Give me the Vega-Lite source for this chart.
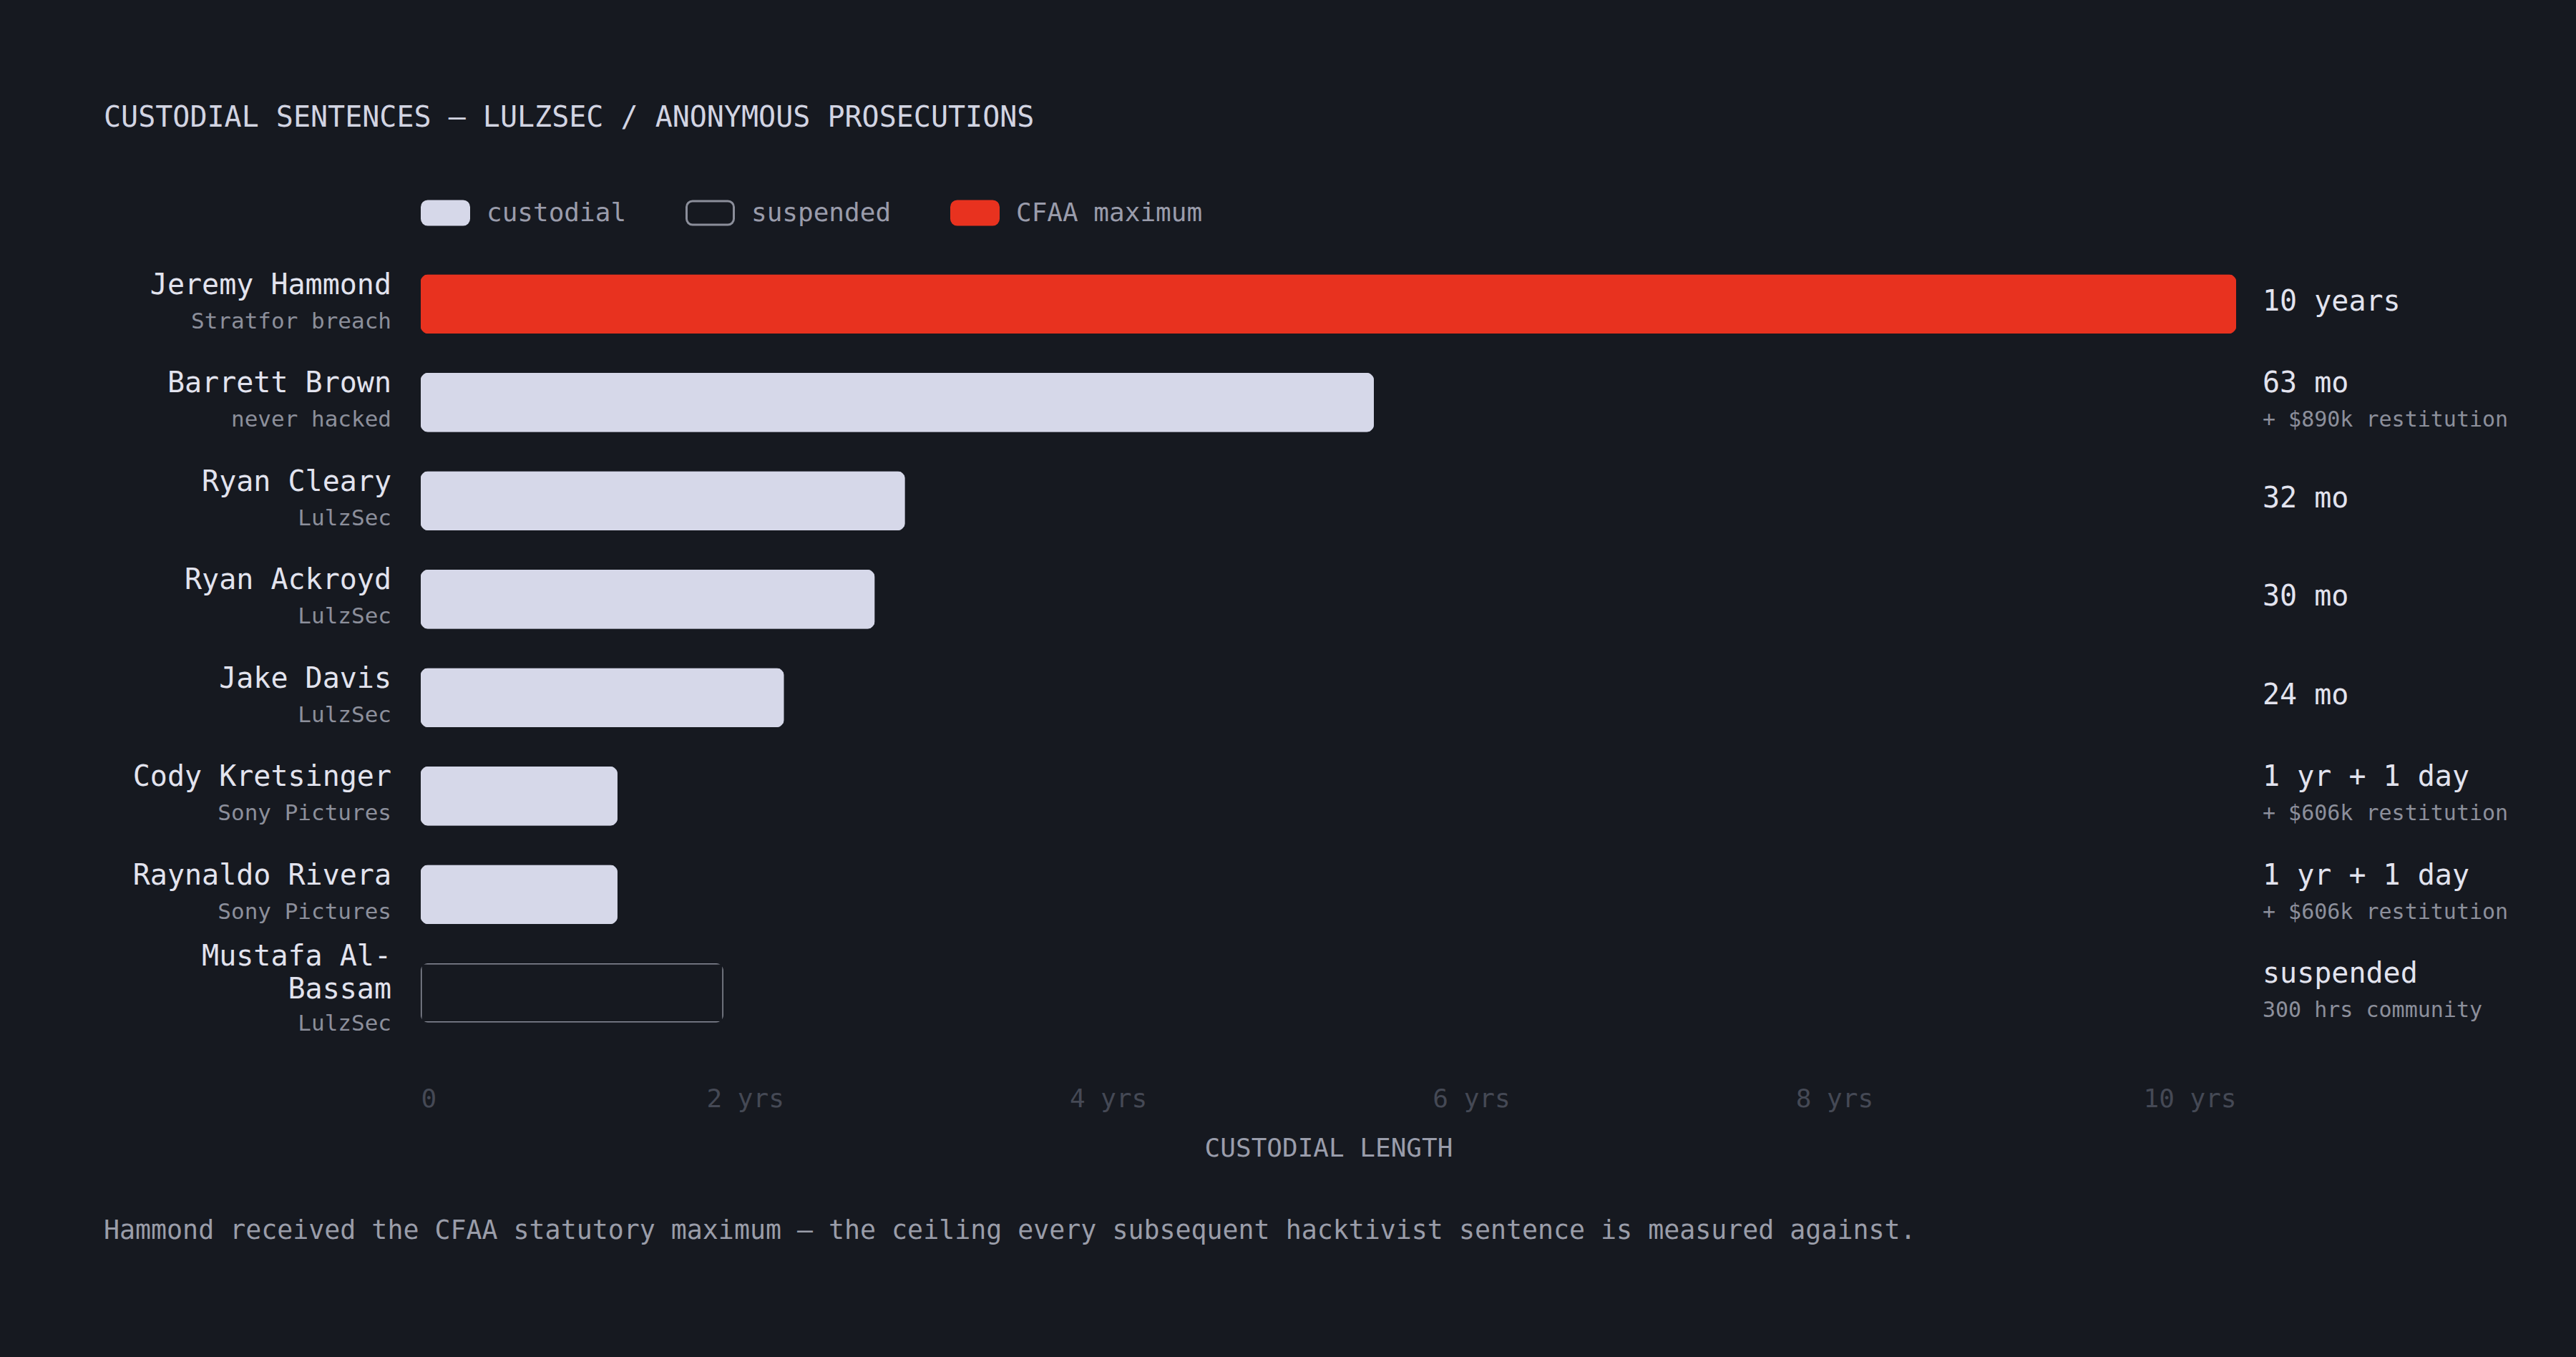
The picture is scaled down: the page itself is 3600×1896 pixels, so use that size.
{
  "$schema": "https://vega.github.io/schema/vega-lite/v6.json",
  "background": "#161920",
  "padding": {"left": 145, "top": 145, "right": 95, "bottom": 174},
  "autosize": {"type": "pad"},
  "title": {
    "text": "CUSTODIAL SENTENCES — LULZSEC / ANONYMOUS PROSECUTIONS",
    "anchor": "start",
    "frame": "group",
    "dx": -443,
    "font": "DejaVu Sans Mono",
    "fontSize": 40,
    "fontWeight": "normal",
    "color": "#d2d4e2",
    "offset": 78
  },
  "config": {
    "view": {"stroke": null},
    "font": "DejaVu Sans Mono"
  },
  "data": {
    "values": [
      {"name": "Jeremy Hammond", "group": "Stratfor breach", "months": 120, "kind": "CFAA maximum", "label": "10 years", "note": ""},
      {"name": "Barrett Brown", "group": "never hacked", "months": 63, "kind": "custodial", "label": "63 mo", "note": "+ $890k restitution"},
      {"name": "Ryan Cleary", "group": "LulzSec", "months": 32, "kind": "custodial", "label": "32 mo", "note": ""},
      {"name": "Ryan Ackroyd", "group": "LulzSec", "months": 30, "kind": "custodial", "label": "30 mo", "note": ""},
      {"name": "Jake Davis", "group": "LulzSec", "months": 24, "kind": "custodial", "label": "24 mo", "note": ""},
      {"name": "Cody Kretsinger", "group": "Sony Pictures", "months": 13, "kind": "custodial", "label": "1 yr + 1 day", "note": "+ $606k restitution"},
      {"name": "Raynaldo Rivera", "group": "Sony Pictures", "months": 13, "kind": "custodial", "label": "1 yr + 1 day", "note": "+ $606k restitution"},
      {"name": "Mustafa Al-\nBassam", "group": "LulzSec", "months": 20, "kind": "suspended", "label": "suspended", "note": "300 hrs community"}
    ]
  },
  "vconcat": [
    {
      "width": 2537,
      "height": 1100,
      "title": {
        "text": "Hammond received the CFAA statutory maximum — the ceiling every subsequent hacktivist sentence is measured against.",
        "orient": "bottom",
        "anchor": "start",
        "frame": "group",
        "dx": -443,
        "font": "DejaVu Sans Mono",
        "fontSize": 36.6,
        "fontWeight": "normal",
        "color": "#9a9da9",
        "offset": 80
      },
      "layer": [
        {
          "mark": {"type": "bar", "cornerRadius": 10, "strokeWidth": 3},
          "encoding": {
            "y": {
              "field": "name",
              "type": "nominal",
              "sort": null,
              "axis": null,
              "scale": {"paddingInner": 0.4, "paddingOuter": 0.2}
            },
            "x": {
              "field": "months",
              "type": "quantitative",
              "title": "CUSTODIAL LENGTH",
              "scale": {"domain": [0, 120], "nice": false},
              "axis": {
                "values": [0, 24, 48, 72, 96, 120],
                "labelExpr": "datum.value == 0 ? '0' : (datum.value / 12) + ' yrs'",
                "domain": false,
                "ticks": false,
                "tickSize": 0,
                "grid": false,
                "labelColor": "#454955",
                "labelFont": "DejaVu Sans Mono",
                "labelFontSize": 36,
                "labelPadding": 62,
                "labelBaseline": "top",
                "labelAlign": {"condition": {"test": "datum.value == 0", "value": "left"}, "value": "right"},
                "labelFlush": false,
                "labelOverlap": false,
                "titleColor": "#9a9dab",
                "titleFont": "DejaVu Sans Mono",
                "titleFontSize": 36,
                "titleFontWeight": "normal",
                "titlePadding": 34
              }
            },
            "fill": {
              "field": "kind",
              "type": "nominal",
              "scale": {"domain": ["custodial", "suspended", "CFAA maximum"], "range": ["#d6d8e9", "#161920", "#e8321f"]},
              "legend": {
                "orient": "top",
                "direction": "horizontal",
                "title": null,
                "symbolType": "M-0.75,-0.5H0.75A0.25,0.25 0 0 1 1,-0.25V0.25A0.25,0.25 0 0 1 0.75,0.5H-0.75A0.25,0.25 0 0 1 -1,0.25V-0.25A0.25,0.25 0 0 1 -0.75,-0.5Z",
                "symbolSize": 4356,
                "symbolStrokeWidth": 3,
                "symbolOpacity": 1,
                "labelFont": "DejaVu Sans Mono",
                "labelFontSize": 36,
                "labelColor": "#9a9cab",
                "labelLimit": 1000,
                "labelOffset": 23,
                "columnPadding": 77,
                "offset": 36
              }
            },
            "stroke": {
              "field": "kind",
              "type": "nominal",
              "scale": {"domain": ["custodial", "suspended", "CFAA maximum"], "range": ["#d6d8e9", "#8b8e9a", "#e8321f"]},
              "legend": {
                "orient": "top",
                "direction": "horizontal",
                "title": null,
                "symbolType": "M-0.75,-0.5H0.75A0.25,0.25 0 0 1 1,-0.25V0.25A0.25,0.25 0 0 1 0.75,0.5H-0.75A0.25,0.25 0 0 1 -1,0.25V-0.25A0.25,0.25 0 0 1 -0.75,-0.5Z",
                "symbolSize": 4356,
                "symbolStrokeWidth": 3,
                "symbolOpacity": 1,
                "labelFont": "DejaVu Sans Mono",
                "labelFontSize": 36,
                "labelColor": "#9a9cab",
                "labelLimit": 1000,
                "labelOffset": 23,
                "columnPadding": 77,
                "offset": 36
              }
            }
          }
        },
        {
          "mark": {"type": "text", "align": "right", "baseline": "middle", "dx": -41, "dy": {"expr": "test(/\\n/, datum.name) ? -50 : -26"}, "font": "DejaVu Sans Mono", "fontSize": 40, "color": "#e2e3ee", "lineBreak": "\n", "lineHeight": 46},
          "encoding": {
            "y": {"field": "name", "type": "nominal", "sort": null},
            "x": {"datum": 0, "type": "quantitative", "title": "CUSTODIAL LENGTH"},
            "text": {"field": "name"}
          }
        },
        {
          "mark": {"type": "text", "align": "right", "baseline": "middle", "dx": -41, "dy": {"expr": "test(/\\n/, datum.name) ? 44 : 25"}, "font": "DejaVu Sans Mono", "fontSize": 31, "color": "#8c8f9b"},
          "encoding": {
            "y": {"field": "name", "type": "nominal", "sort": null},
            "x": {"datum": 0, "type": "quantitative", "title": "CUSTODIAL LENGTH"},
            "text": {"field": "group"}
          }
        },
        {
          "mark": {"type": "text", "align": "left", "baseline": "middle", "dx": 37, "dy": {"expr": "datum.note ? -26 : -3"}, "font": "DejaVu Sans Mono", "fontSize": 40, "color": "#e2e3ee"},
          "encoding": {
            "y": {"field": "name", "type": "nominal", "sort": null},
            "x": {"datum": 120, "type": "quantitative", "title": "CUSTODIAL LENGTH"},
            "text": {"field": "label"}
          }
        },
        {
          "transform": [{"filter": "datum.note != ''"}],
          "mark": {"type": "text", "align": "left", "baseline": "middle", "dx": 37, "dy": 25, "font": "DejaVu Sans Mono", "fontSize": 30, "color": "#8c8f9b"},
          "encoding": {
            "y": {"field": "name", "type": "nominal", "sort": null},
            "x": {"datum": 120, "type": "quantitative", "title": "CUSTODIAL LENGTH"},
            "text": {"field": "note"}
          }
        }
      ]
    }
  ]
}
